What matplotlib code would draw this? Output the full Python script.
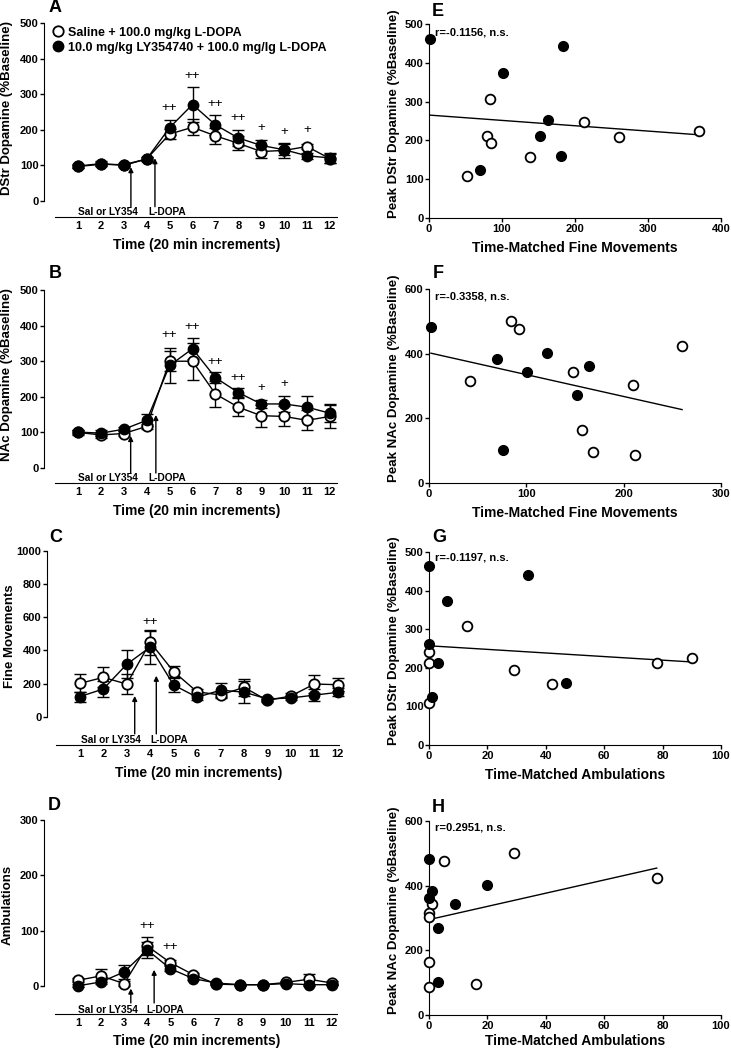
import numpy as np
import matplotlib
matplotlib.use("Agg")
import matplotlib.pyplot as plt
from matplotlib.lines import Line2D

plt.rcParams['font.family'] = ['Liberation Sans', 'DejaVu Sans']
plt.rcParams['font.weight'] = 'bold'
plt.rcParams['axes.labelweight'] = 'bold'

W, H = 731, 1049

time_bins = np.arange(1, 13)
time_labels = [str(t) for t in time_bins]

# A: DStr dopamine (% baseline)
dstr_sal = [98, 105, 100, 118, 188, 207, 183, 162, 139, 142, 153, 119]
dstr_sal_err = [5, 6, 5, 6, 15, 22, 23, 20, 18, 21, 8, 12]
dstr_ly = [97, 103, 102, 118, 206, 271, 214, 177, 156, 144, 127, 121]
dstr_ly_err = [5, 6, 5, 6, 22, 50, 28, 23, 16, 15, 8, 15]

# B: NAc dopamine (% baseline)
nac_sal = [100, 93, 97, 117, 300, 300, 208, 171, 147, 145, 134, 145]
nac_sal_err = [6, 8, 6, 8, 28, 52, 37, 26, 31, 28, 28, 33]
nac_ly = [101, 98, 109, 134, 288, 335, 254, 212, 180, 180, 171, 154]
nac_ly_err = [6, 8, 6, 17, 50, 30, 15, 12, 10, 22, 30, 25]

# C: fine movements
fine_sal = [201, 237, 197, 449, 272, 150, 131, 177, 98, 125, 197, 193]
fine_sal_err = [55, 60, 62, 77, 35, 15, 15, 50, 10, 15, 55, 40]
fine_ly = [121, 167, 316, 420, 191, 117, 160, 148, 107, 113, 130, 147]
fine_ly_err = [30, 50, 85, 100, 45, 15, 45, 65, 10, 10, 38, 25]

# D: ambulations
amb_sal = [10, 18, 4, 72, 42, 20, 3, 2, 2, 6, 12, 5]
amb_sal_err = [4, 12, 4, 16, 5, 3, 2, 2, 2, 3, 10, 3]
amb_ly = [0, 7, 25, 65, 31, 13, 5, 2, 2, 4, 2, 2]
amb_ly_err = [3, 4, 12, 15, 4, 3, 2, 1, 1, 2, 2, 1]

# significance marks (time bin, height, label)
sig_a = [(5, 260, '++'), (6, 352, '++'), (7, 273, '++'), (8, 232, '++'),
         (9, 206, '+'), (10, 195, '+'), (11, 200, '+')]
sig_b = [(5, 374, '++'), (6, 397, '++'), (7, 299, '++'), (8, 254, '++'),
         (9, 224, '+'), (10, 235, '+')]
sig_c = [(4, 573, '++')]
sig_d = [(4, 109, '++'), (5, 70, '++')]

# E-H: correlations, (x, y) pairs for saline (open) and LY354740 (filled)
e_sal_x = [83, 80, 85, 52, 138, 212, 260, 370]
e_sal_y = [306, 212, 194, 109, 158, 247, 210, 225]
e_ly_x = [2, 101, 184, 163, 152, 181, 70]
e_ly_y = [461, 373, 443, 253, 212, 160, 123]

f_sal_x = [42, 84, 92, 148, 210, 260, 157, 168, 212]
f_sal_y = [314, 502, 476, 343, 304, 423, 164, 95, 87]
f_ly_x = [2, 70, 101, 121, 164, 152, 76]
f_ly_y = [481, 382, 343, 402, 363, 271, 103]

g_sal_x = [13, 0, 0, 0, 29, 42, 78, 90]
g_sal_y = [307, 241, 213, 109, 194, 157, 213, 226]
g_ly_x = [0, 0, 3, 1, 6, 34, 47]
g_ly_y = [464, 261, 213, 124, 373, 441, 160]

h_sal_x = [5, 29, 1, 0, 0, 0, 0, 16, 78]
h_sal_y = [476, 502, 343, 316, 304, 165, 87, 95, 423]
h_ly_x = [0, 0, 1, 9, 20, 3, 3]
h_ly_y = [481, 363, 384, 343, 402, 270, 103]

r_texts = ['r=-0.1156, n.s.', 'r=-0.3358, n.s.', 'r=-0.1197, n.s.', 'r=0.2951, n.s.']

fig = plt.figure(figsize=(W / 100, H / 100), dpi=100)


def px_axes(left, top, right, bottom):
    return fig.add_axes([left / W, 1 - bottom / H, (right - left) / W, (bottom - top) / H])


def time_panel(box, xlim, ylim, yticks, ylabel, sal, sal_err, ly, ly_err, sig,
               arrows, txt_y, txt_x, xlab_y=-0.11):
    ax = px_axes(*box)
    ax.errorbar(time_bins, sal, yerr=sal_err, fmt='none', ecolor='black',
                elinewidth=1, capsize=4.5, capthick=1, zorder=2, clip_on=False)
    ax.errorbar(time_bins, ly, yerr=ly_err, fmt='none', ecolor='black',
                elinewidth=1, capsize=4.5, capthick=1, zorder=2, clip_on=False)
    ax.plot(time_bins, sal, '-o', color='black', lw=1, ms=7.5, mfc='white',
            mec='black', mew=1.3, zorder=3, clip_on=False)
    ax.plot(time_bins, ly, '-o', color='black', lw=1, ms=7.5, mfc='black',
            mec='black', zorder=4, clip_on=False)
    for t, yy, s in sig:
        ax.text(t, yy, s, ha='center', va='center', fontsize=9.5, fontweight='normal')
    for xa, y0, y1 in arrows:
        ax.annotate('', xy=(xa, y1), xytext=(xa, y0),
                    arrowprops=dict(arrowstyle='-|>', color='black', lw=1,
                                    mutation_scale=7, shrinkA=0, shrinkB=0))
    ax.text(txt_x[0], txt_y, 'Sal or LY354', ha='center', va='center', fontsize=7.3)
    ax.text(txt_x[1], txt_y, 'L-DOPA', ha='center', va='center', fontsize=7.3)
    ax.set_xlim(*xlim)
    ax.set_ylim(*ylim)
    ax.set_yticks(yticks)
    ax.set_xticks(time_bins)
    ax.set_xticklabels(time_labels)
    ax.spines['top'].set_visible(False)
    ax.spines['right'].set_visible(False)
    ax.spines['left'].set_bounds(0, yticks[-1])
    ax.spines['bottom'].set_bounds(0, xlim[1])
    ax.tick_params(axis='y', direction='out', length=3, width=1, labelsize=8, pad=1)
    ax.tick_params(axis='x', length=0, labelsize=8, pad=3)
    ax.set_ylabel(ylabel, fontsize=9.5)
    ax.yaxis.set_label_coords(-0.105, 0.56)
    ax.set_xlabel('Time (20 min increments)', fontsize=10)
    ax.xaxis.set_label_coords(0.52, xlab_y)
    return ax


ax_a = time_panel((44, 23, 337, 217), (-0.485, 12.31), (-45, 500), [0, 100, 200, 300, 400, 500],
                  'DStr Dopamine (%Baseline)', dstr_sal, dstr_sal_err, dstr_ly, dstr_ly_err,
                  sig_a, [(3.31, -16, 95), (4.36, -16, 120)], -31, (2.3, 4.9))
ax_b = time_panel((44, 290, 337, 483), (-0.485, 12.31), (-42, 500), [0, 100, 200, 300, 400, 500],
                  'NAc Dopamine (%Baseline)', nac_sal, nac_sal_err, nac_ly, nac_ly_err,
                  sig_b, [(3.3, -14, 90), (4.4, -14, 149)], -28, (2.3, 4.9))
ax_c = time_panel((47, 551, 339, 745), (-0.40, 12.05), (-171, 1000), [0, 200, 400, 600, 800, 1000],
                  'Fine Movements', fine_sal, fine_sal_err, fine_ly, fine_ly_err,
                  sig_c, [(3.34, -104, 125), (4.26, -104, 247)], -141, (2.34, 4.8))
ax_d = time_panel((44, 820, 337, 1014), (-0.47, 12.22), (-51, 300), [0, 100, 200, 300],
                  'Ambulations', amb_sal, amb_sal_err, amb_ly, amb_ly_err,
                  sig_d, [(3.29, -31, -5), (4.3, -31, 29)], -43, (2.3, 4.8), xlab_y=-0.105)

legend_handles = [
    Line2D([], [], marker='o', ls='none', ms=7.5, mfc='white', mec='black', mew=1.3),
    Line2D([], [], marker='o', ls='none', ms=7.5, mfc='black', mec='black'),
]
ax_a.legend(legend_handles, ['Saline + 100.0 mg/kg L-DOPA',
                             '10.0 mg/kg LY354740 + 100.0 mg/lg L-DOPA'],
            loc='upper left', bbox_to_anchor=(0.0, 1.02), frameon=False,
            prop={'size': 9, 'weight': 'bold'}, handlelength=1.0,
            handletextpad=0.35, labelspacing=0.25, borderaxespad=0.2)


def corr_panel(box, xlim, ylim, xticks, yticks, xlabel, ylabel, sal_x, sal_y, ly_x, ly_y,
               rtext, r_y, xlab_y=-0.12):
    ax = px_axes(*box)
    all_x = np.array(sal_x + ly_x, dtype=float)
    all_y = np.array(sal_y + ly_y, dtype=float)
    slope, icpt = np.polyfit(all_x, all_y, 1)
    xs = np.array([all_x.min(), all_x.max()])
    ax.plot(xs, icpt + slope * xs, color='black', lw=1, zorder=2)
    ax.plot(sal_x, sal_y, 'o', ms=7, mfc='white', mec='black', mew=1.3,
            clip_on=False, zorder=3)
    ax.plot(ly_x, ly_y, 'o', ms=7, mfc='black', mec='black', clip_on=False, zorder=4)
    ax.text(0.02, r_y, rtext, transform=ax.transAxes, ha='left', va='center', fontsize=8)
    ax.set_xlim(*xlim)
    ax.set_ylim(*ylim)
    ax.set_xticks(xticks)
    ax.set_yticks(yticks)
    ax.spines['top'].set_visible(False)
    ax.spines['right'].set_visible(False)
    ax.tick_params(direction='out', length=3, width=1, labelsize=8, pad=1)
    ax.set_xlabel(xlabel, fontsize=10)
    ax.xaxis.set_label_coords(0.5, xlab_y)
    ax.set_ylabel(ylabel, fontsize=9.5)
    ax.yaxis.set_label_coords(-0.1, 0.54)
    return ax


corr_panel((429, 24, 721, 218), (0, 400), (0, 500), [0, 100, 200, 300, 400],
           [0, 100, 200, 300, 400, 500], 'Time-Matched Fine Movements',
           'Peak DStr Dopamine (%Baseline)', e_sal_x, e_sal_y, e_ly_x, e_ly_y,
           r_texts[0], 0.954)
corr_panel((429, 289, 721, 483), (0, 300), (0, 600), [0, 100, 200, 300],
           [0, 200, 400, 600], 'Time-Matched Fine Movements',
           'Peak NAc Dopamine (%Baseline)', f_sal_x, f_sal_y, f_ly_x, f_ly_y,
           r_texts[1], 0.959)
corr_panel((429, 552, 721, 745), (0, 100), (0, 500), [0, 20, 40, 60, 80, 100],
           [0, 100, 200, 300, 400, 500], 'Time-Matched Ambulations',
           'Peak DStr Dopamine (%Baseline)', g_sal_x, g_sal_y, g_ly_x, g_ly_y,
           r_texts[2], 0.969)
corr_panel((429, 821, 721, 1015), (0, 100), (0, 600), [0, 20, 40, 60, 80, 100],
           [0, 200, 400, 600], 'Time-Matched Ambulations',
           'Peak NAc Dopamine (%Baseline)', h_sal_x, h_sal_y, h_ly_x, h_ly_y,
           r_texts[3], 0.964, xlab_y=-0.1)

# panel letters
for letter, px, py in [('A', 55, 7), ('B', 55, 274), ('C', 56, 537), ('D', 54, 806),
                       ('E', 438, 11), ('F', 438, 274), ('G', 439, 537), ('H', 438, 807)]:
    fig.text(px / W, 1 - py / H, letter, ha='center', va='center', fontsize=13,
             fontweight='bold')

fig.savefig('out.png', dpi=100)
